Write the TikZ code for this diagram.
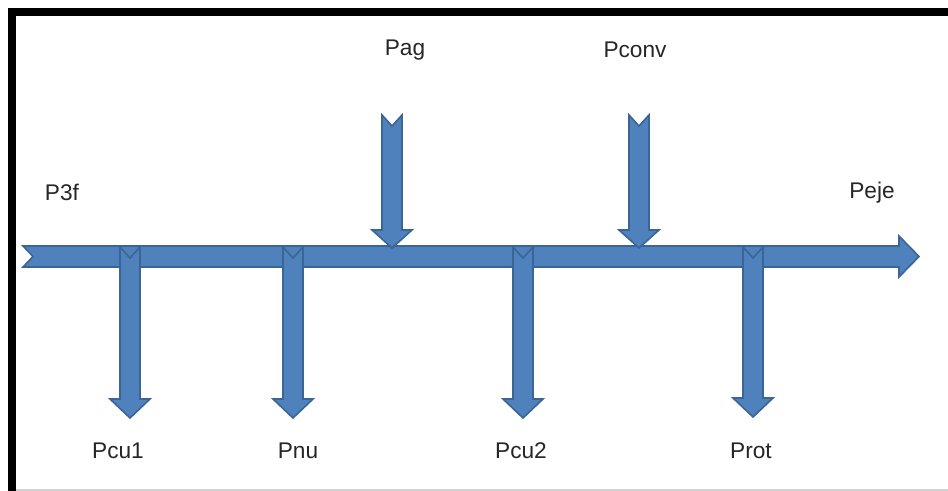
\documentclass[tikz,border=0pt]{standalone}
\usepackage{fontspec}
\setmainfont{Liberation Sans}
\definecolor{arrowfill}{HTML}{4F81BD}
\definecolor{arrowedge}{HTML}{3A6595}
\tikzset{
  blockarrow/.style={fill=arrowfill, draw=arrowedge, line width=1.2pt, line join=miter},
  lbl/.style={font=\fontsize{17}{20}\selectfont, text=black!85, inner sep=0pt, anchor=center}
}
% down block arrow: #1 centre x, #2 top y, #3 head base y, #4 tip y
\newcommand\flowdown[4]{%
  \path[blockarrow] (#1-10,#2) -- (#1,#2+11) -- (#1+10,#2) -- (#1+10,#3) -- (#1+20,#3)
    -- (#1,#4) -- (#1-20,#3) -- (#1-10,#3) -- cycle;}
\begin{document}
\begin{tikzpicture}[x=0.75pt,y=-0.75pt]
\useasboundingbox (0,0) rectangle (948,491);
% frame
\fill[white] (0,0) rectangle (948,491);
\fill[black] (8,8) rectangle (948,16);
\fill[black] (8,8) rectangle (16,491);
\draw[black!18, line width=1.2pt] (16,490) -- (948,490);
% main horizontal arrow
\path[blockarrow] (23,246) -- (899,246) -- (899,236) -- (919,256.5) -- (899,277) -- (899,267)
  -- (23,267) -- (33,256.5) -- cycle;
% arrows leaving the flow
\flowdown{130}{247}{399}{418}
\flowdown{293}{247}{399}{418}
\flowdown{523}{247}{399}{418}
\flowdown{753}{247}{398}{417}
% arrows entering the flow
\flowdown{392}{115}{230}{248}
\flowdown{639}{115}{230}{248}
% labels
\node[lbl] (p3f)  at (62,192) {P3f};
\node[lbl] (peje) at (872,193) {Peje};
\node[lbl] (pag)  at (405,50) {Pag};
\node[lbl] (pconv) at (635,50) {Pconv};
\node[lbl] (pcu1) at (118,451) {Pcu1};
\node[lbl] (pnu)  at (298,451) {Pnu};
\node[lbl] (pcu2) at (521,451) {Pcu2};
\node[lbl] (prot) at (751,451) {Prot};
\end{tikzpicture}
\end{document}
